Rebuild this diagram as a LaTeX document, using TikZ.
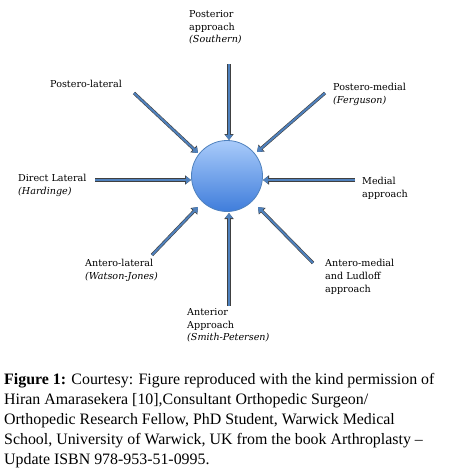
\documentclass[tikz,border=0pt]{standalone}
\usepackage{fontspec}
\setmainfont{Liberation Serif}
\newfontfamily\lblfont{DejaVu Serif}
\usetikzlibrary{arrows.meta}
\definecolor{arrblue}{HTML}{4F81BD}
\definecolor{ctop}{HTML}{A9CBFA}
\definecolor{cbot}{HTML}{3F7DDB}
\tikzset{
  lbl/.style={font=\lblfont\fontsize{9.6}{12.8}\selectfont, align=left, inner sep=0pt, text=black},
  arrshadow/.style={draw=black!75, line width=3.2pt, -{Triangle[length=6pt,width=9pt]}},
  arrmain/.style={draw=arrblue, line width=2pt, -{Triangle[length=5.2pt,width=7.5pt]}},
}
\newcommand{\approacharrow}[2]{%
  \draw[arrshadow] (#1) -- (#2);
  \draw[arrmain] (#1) -- (#2);}
\begin{document}
\begin{tikzpicture}[x=1pt,y=-1pt]
\useasboundingbox (0,0) rectangle (448,472);
% hub
\node[circle, minimum size=71pt, draw=arrblue, line width=0.8pt, top color=ctop, bottom color=cbot, inner sep=0pt] (hub) at (227,176) {};
% tails
\coordinate (tN) at (229,64);
\coordinate (tNW) at (134,93);
\coordinate (tNE) at (325,93);
\coordinate (tW) at (95,180);
\coordinate (tE) at (355,180);
\coordinate (tSW) at (152,255);
\coordinate (tSE) at (313,263);
\coordinate (tS) at (229,306);
% heads
\coordinate (hN) at (229,140);
\coordinate (hNW) at (198,153);
\coordinate (hNE) at (257,152);
\coordinate (hW) at (191,180);
\coordinate (hE) at (263,180);
\coordinate (hSW) at (198,207);
\coordinate (hSE) at (258,207);
\coordinate (hS) at (229,213);
\approacharrow{tN}{hN}
\approacharrow{tNW}{hNW}
\approacharrow{tNE}{hNE}
\approacharrow{tW}{hW}
\approacharrow{tE}{hE}
\approacharrow{tSW}{hSW}
\approacharrow{tSE}{hSE}
\approacharrow{tS}{hS}
% labels
\node[lbl, anchor=north west] (lN) at (189,10) {Posterior\\approach\\\textit{(Southern)}};
\node[lbl, anchor=north west] (lNW) at (50,80) {Postero-lateral};
\node[lbl, anchor=north west] (lNE) at (333,83) {Postero-medial\\\textit{(Ferguson)}};
\node[lbl, anchor=north west] (lW) at (18,174) {Direct Lateral\\\textit{(Hardinge)}};
\node[lbl, anchor=north west] (lE) at (362,177) {Medial\\approach};
\node[lbl, anchor=north west] (lSW) at (85,259) {Antero-lateral\\\textit{(Watson-Jones)}};
\node[lbl, anchor=north west] (lSE) at (325,259) {Antero-medial\\and Ludloff\\approach};
\node[lbl, anchor=north west] (lS) at (187,308) {Anterior\\Approach\\\textit{(Smith-Petersen)}};
% caption
\node[anchor=north west, inner sep=0pt, align=left, font=\fontsize{15.9}{20}\selectfont] (cap) at (4,373)
{\textbf{Figure 1:} Courtesy: Figure reproduced with the kind permission of\\
Hiran Amarasekera [10],Consultant Orthopedic Surgeon/\\
Orthopedic Research Fellow, PhD Student, Warwick Medical\\
School, University of Warwick, UK from the book Arthroplasty –\\
Update ISBN 978-953-51-0995.};
\end{tikzpicture}
\end{document}
